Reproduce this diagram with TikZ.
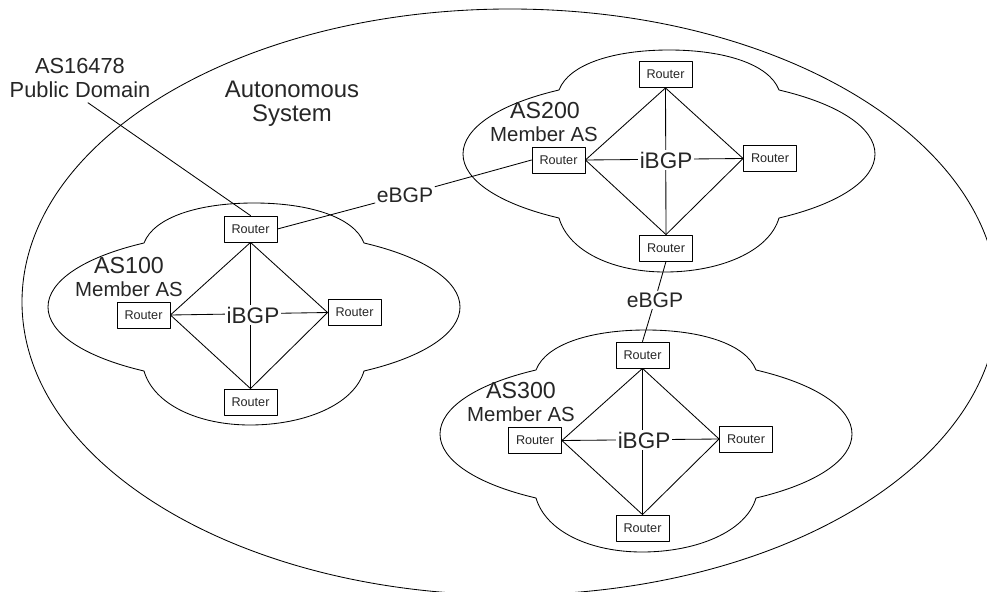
\documentclass[tikz,border=0pt]{standalone}
\usepackage{fontspec}
\setmainfont{Liberation Sans}
% one AS cloud, drawn round its centre (pixel units, y down)
\newcommand{\ascloud}[1]{%
  \draw[shift={#1}] (-110,-64) .. controls (-170,-50) and (-206,-26) .. (-206,0)
    .. controls (-206,26) and (-170,50) .. (-110,64)
    .. controls (-100,98) and (-55,118) .. (-4,118)
    .. controls (50,118) and (100,98) .. (110,64)
    .. controls (170,50) and (206,26) .. (206,0)
    .. controls (206,-26) and (170,-50) .. (110,-64)
    .. controls (100,-90) and (55,-104) .. (0,-104)
    .. controls (-55,-104) and (-100,-90) .. (-110,-64) -- cycle;}
\begin{document}
\begin{tikzpicture}[x=0.025cm,y=-0.025cm,line join=round,line cap=round,line width=0.6pt,
  every node/.append style={text=black!85},
  router/.style={draw,minimum width=1.325cm,minimum height=0.65cm,inner sep=0pt,font=\fontsize{9}{10}\selectfont},
  ibgp/.style={fill=white,inner sep=1pt,font=\fontsize{16}{18}\selectfont},
  ebgp/.style={inner sep=1pt,font=\fontsize{15}{17}\selectfont},
  asname/.style={inner sep=0pt,font=\fontsize{16.5}{18}\selectfont},
  asrole/.style={inner sep=0pt,font=\fontsize{14.5}{16}\selectfont}]
	\useasboundingbox (0,0) rectangle (987,592);
	\clip (0,0) rectangle (987,592);
	\draw (510,302) ellipse [x radius=488, y radius=293];
	\ascloud{(254,307)}
	\ascloud{(669,154)}
	\ascloud{(646,434)}
	% AS100
	\node[router] (r1t) at (250.5,229) {Router};
	\node[router] (r1l) at (143.5,315) {Router};
	\node[router] (r1r) at (354.5,312.5) {Router};
	\node[router] (r1b) at (250.5,402) {Router};
	\draw (r1t.south) -- (r1l.east) -- (r1b.north) -- (r1r.west) -- cycle;
	\draw (r1t.south) -- (r1b.north);
	\draw (r1l.east) -- (r1r.west);
	\node[ibgp] (i1) at (253,315) {iBGP};
	\node[asname] (n1) at (129,266) {AS100};
	\node[asrole] (m1) at (129,289) {Member AS};
	% AS200
	\node[router] (r2t) at (665.5,74.5) {Router};
	\node[router] (r2l) at (558.5,160) {Router};
	\node[router] (r2r) at (770,158.5) {Router};
	\node[router] (r2b) at (666,248) {Router};
	\draw (r2t.south) -- (r2l.east) -- (r2b.north) -- (r2r.west) -- cycle;
	\draw (r2t.south) -- (r2b.north);
	\draw (r2l.east) -- (r2r.west);
	\node[ibgp] (i2) at (666,160) {iBGP};
	\node[asname] (n2) at (545,111) {AS200};
	\node[asrole] (m2) at (544,134) {Member AS};
	% AS300
	\node[router] (r3t) at (642.5,355) {Router};
	\node[router] (r3l) at (535,440.5) {Router};
	\node[router] (r3r) at (746,439) {Router};
	\node[router] (r3b) at (642.5,528) {Router};
	\draw (r3t.south) -- (r3l.east) -- (r3b.north) -- (r3r.west) -- cycle;
	\draw (r3t.south) -- (r3b.north);
	\draw (r3l.east) -- (r3r.west);
	\node[ibgp] (i3) at (644,440) {iBGP};
	\node[asname] (n3) at (521,391) {AS300};
	\node[asrole] (m3) at (521,414) {Member AS};
	% eBGP links
	\node[ebgp] (e1) at (405,195) {eBGP};
	\node[ebgp] (e2) at (655,300) {eBGP};
	\draw (r1t.east) -- (e1);
	\draw (e1) -- (r2l.west);
	\draw (r2b.south) -- (e2);
	\draw (e2) -- (r3t.north);
	% outside labels
	\node[align=center,font=\fontsize{15.5}{17}\selectfont] (pub) at (80,78) {AS16478\\Public Domain};
	\node[align=center,font=\fontsize{17}{17}\selectfont] (aut) at (292,104) {Autonomous\\System};
	\draw ([shift={(8,0)}]pub.south) -- (r1t.north);
\end{tikzpicture}
\end{document}
